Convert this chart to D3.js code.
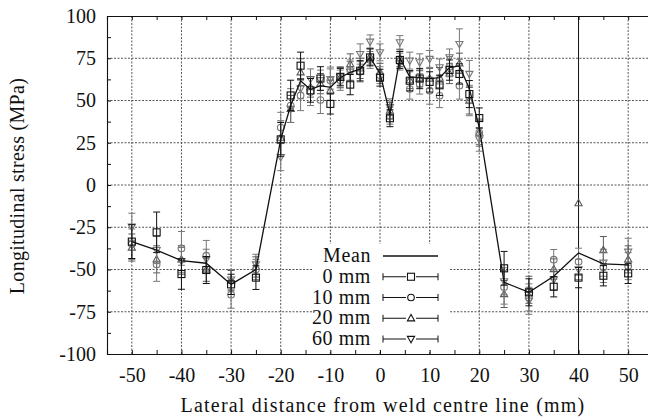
<!DOCTYPE html>
<html lang="en">
<head>
    <meta charset="UTF-8">
    <title>Longitudinal stress</title>
    <script src="https://d3js.org/d3.v7.min.js"></script>
    <style>
        body { margin: 0; background: #fff; }
        svg { display: block; }
        text { font-family: "Liberation Serif", "DejaVu Serif", serif; fill: #111; }
    </style>
</head>
<body>
    <svg width="648" height="419"></svg>
    <script>
        // lateral positions (mm)
        const xs = [-50, -45, -40, -35, -30, -25, -20, -18, -16, -14, -12, -10, -8, -6, -4, -2, 0,
                    2, 4, 6, 8, 10, 12, 14, 16, 18, 20, 25, 30, 35, 40, 45, 50];
        const meanVals = [-33.5, -38.5, -44.8, -46.3, -58.8, -50, 27, 47, 61.7, 56.5, 58.8, 57.8, 63.5, 66.7, 68.6, 75.5, 66,
                          42, 75, 64, 63.5, 63, 63.5, 69.5, 70.5, 57, 34, -57.6, -63.5, -54, -40.2, -46.7, -47.3];
        const s0 = [-33.5, -28, -52.7, -50.3, -58.8, -54.8, 27, 53, 70.6, 56, 63, 48, 64, 59.4, 67.6, 75.5, 63.5,
                    39.5, 74, 61.7, 63, 61, 59, 68, 65.7, 53.8, 39.6, -49.3, -63.5, -60.2, -54.8, -53.7, -52.3];
        const s10 = [-35, -47, -37.5, -41.8, -64.9, -50, 34, 47, 53, 55, 50.3, 61.8, 62, 68, 67, 74, 65,
                     41, 73, 56.8, 59.8, 55.8, 52.8, 70, 58.8, 50, 31, -60.5, -66.5, -44.2, -45.4, -48.7, -48];
        const s20 = [-37, -44, -44, -50, -56.6, -48.5, 28, 45, 66.7, 58, 60, 56, 63.5, 71.6, 69, 76, 67,
                     44, 75, 62, 63, 63, 63.5, 66, 72, 50, 31, -64.5, -62, -49.7, -10.7, -38.5, -44];
        const s60 = [-24.7, -38.5, -45, -44, -56, -47, 16.5, 45, 57, 62.7, 62, 62.7, 64, 67, 77.5, 84.8, 78.5,
                     46, 84.4, 73.6, 72.6, 74.6, 69.6, 75.5, 83.4, 65.7, 27, -57, -68.5, -56, -50, -46, -39.5];
        // error bar half widths (MPa)
        const err0 = [10, 12, 9, 8, 6, 7, 10, 9, 8, 7, 7, 6, 5, 6, 6, 5, 5, 5, 5, 6, 6, 6, 6, 6, 6, 8, 6, 10, 8, 6, 6, 6, 6];
        const err10 = [9, 10, 10, 9, 8, 6, 9, 10, 9, 8, 8, 8, 6, 6, 6, 5, 5, 5, 5, 6, 6, 8, 7, 6, 8, 9, 7, 10, 8, 6, 8, 9, 8];
        const err20 = [8, 8, 8, 7, 6, 6, 10, 8, 8, 6, 6, 6, 6, 6, 6, 5, 5, 5, 5, 5, 5, 6, 6, 6, 6, 8, 8, 8, 8, 6, 0, 8, 8];
        const err60 = [8, 8, 8, 6, 6, 6, 8, 8, 6, 6, 6, 6, 6, 6, 6, 4, 5, 5, 4, 5, 5, 5, 5, 5, 9, 8, 7, 8, 8, 6, 6, 8, 8];

        const xTicks = [-50, -40, -30, -20, -10, 0, 10, 20, 30, 40, 50];
        const yTicks = [-100, -75, -50, -25, 0, 25, 50, 75, 100];
        const legendLabels = ["Mean", "0 mm", "10 mm", "20 mm", "60 mm"];

        const svg = d3.select("svg");
        const x = d3.scaleLinear().domain([-55, 55]).range([107, 653]);
        const y = d3.scaleLinear().domain([-100, 100]).range([354, 16]);

        // grid
        const grid = svg.append("g");
        grid.selectAll("line.gx").data(xTicks).enter().append("line")
            .attr("x1", d => x(d)).attr("x2", d => x(d))
            .attr("y1", y(100)).attr("y2", y(-100))
            .attr("stroke", d => d === 40 ? "#111" : "#555")
            .attr("stroke-width", 1)
            .attr("stroke-dasharray", d => d === 40 ? null : "2,1.5");
        grid.selectAll("line.gy").data(yTicks.filter(d => d > -100 && d < 100)).enter().append("line")
            .attr("x1", x(-55)).attr("x2", 648)
            .attr("y1", d => y(d)).attr("y2", d => y(d))
            .attr("stroke", "#555")
            .attr("stroke-dasharray", "2,1.5");

        // axes with inward ticks
        const minorX = d3.range(-55, 56, 5);
        const minorY = d3.range(-100, 101, 12.5);
        const axBottom = svg.append("g").attr("transform", `translate(0,${y(-100)})`)
            .call(d3.axisBottom(x).tickValues(minorX).tickSize(-4).tickFormat(""));
        const axTop = svg.append("g").attr("transform", `translate(0,${y(100)})`)
            .call(d3.axisTop(x).tickValues(minorX).tickSize(-4).tickFormat(""));
        const axLeft = svg.append("g").attr("transform", `translate(${x(-55)},0)`)
            .call(d3.axisLeft(y).tickValues(minorY).tickSize(-4).tickFormat(""));
        [axBottom, axTop, axLeft].forEach(g => {
            g.select(".domain").attr("stroke", "#111").attr("stroke-width", 1.1);
            g.selectAll(".tick line").attr("stroke", "#111");
        });

        // tick labels (plain hyphen for negatives)
        svg.append("g").attr("transform", `translate(0,${y(-100)})`)
            .call(d3.axisBottom(x).tickValues(xTicks).tickSize(0).tickPadding(14).tickFormat(d => String(d)))
            .call(g => g.select(".domain").remove())
            .selectAll("text").attr("font-size", 20).attr("fill", "#111")
            .attr("font-family", "Liberation Serif, serif");
        svg.append("g").attr("transform", `translate(${x(-55)},0)`)
            .call(d3.axisLeft(y).tickValues(yTicks).tickSize(0).tickPadding(11).tickFormat(d => String(d)))
            .call(g => g.select(".domain").remove())
            .selectAll("text").attr("font-size", 20).attr("fill", "#111")
            .attr("font-family", "Liberation Serif, serif");

        // axis titles
        svg.append("text")
            .attr("x", 383).attr("y", 412)
            .attr("text-anchor", "middle")
            .attr("font-size", 20)
            .attr("letter-spacing", 1.2)
            .text("Lateral distance from weld centre line (mm)");
        svg.append("text")
            .attr("transform", "translate(24,186) rotate(-90)")
            .attr("text-anchor", "middle")
            .attr("font-size", 20)
            .attr("letter-spacing", 0.3)
            .text("Longitudinal stress (MPa)");

        // series
        const series = [
            { vals: s0, err: err0, shape: "square", color: "#111" },
            { vals: s10, err: err10, shape: "circle", color: "#777" },
            { vals: s20, err: err20, shape: "up", color: "#5a5a5a" },
            { vals: s60, err: err60, shape: "down", color: "#777" }
        ];

        function drawMarker(g, shape, cx, cy, color) {
            if (shape === "square") {
                g.append("rect").attr("x", cx - 3.5).attr("y", cy - 3.5)
                    .attr("width", 7).attr("height", 7)
                    .attr("fill", "none").attr("stroke", color).attr("stroke-width", 1.1);
            } else if (shape === "circle") {
                g.append("circle").attr("cx", cx).attr("cy", cy).attr("r", 3.3)
                    .attr("fill", "none").attr("stroke", color).attr("stroke-width", 1.1);
            } else {
                const s = shape === "up" ? 1 : -1;
                const pts = [[cx, cy - 3.8 * s], [cx - 3.6, cy + 2.6 * s], [cx + 3.6, cy + 2.6 * s]];
                g.append("path").attr("d", d3.line()(pts) + "Z")
                    .attr("fill", "none").attr("stroke", color).attr("stroke-width", 1.1);
            }
        }

        const plot = svg.append("g");
        series.slice().reverse().forEach(s => {
            const g = plot.append("g");
            xs.forEach((xv, i) => {
                const cx = x(xv), cy = y(s.vals[i]), e = s.err[i];
                if (e > 0) {
                    const y1 = y(s.vals[i] + e), y2 = y(s.vals[i] - e);
                    g.append("line").attr("x1", cx).attr("x2", cx).attr("y1", y1).attr("y2", y2)
                        .attr("stroke", s.color).attr("stroke-width", 1);
                    [y1, y2].forEach(yy => g.append("line")
                        .attr("x1", cx - 3.5).attr("x2", cx + 3.5).attr("y1", yy).attr("y2", yy)
                        .attr("stroke", s.color).attr("stroke-width", 1));
                }
                drawMarker(g, s.shape, cx, cy, s.color);
            });
        });

        // mean line
        plot.append("path")
            .datum(xs.map((xv, i) => [xv, meanVals[i]]))
            .attr("d", d3.line().x(d => x(d[0])).y(d => y(d[1])))
            .attr("fill", "none").attr("stroke", "#111").attr("stroke-width", 1.3);

        // legend
        const leg = svg.append("g");
        leg.append("rect").attr("x", 312).attr("y", 244).attr("width", 138).attr("height", 106).attr("fill", "#fff");
        const rowY = d3.scaleLinear().domain([0, 4]).range([256, 339]);
        legendLabels.forEach((lab, i) => {
            const ry = rowY(i);
            leg.append("text").attr("x", 371).attr("y", ry + 6)
                .attr("text-anchor", "end").attr("font-size", 20).attr("letter-spacing", 0.6).text(lab);
            leg.append("line").attr("x1", 383).attr("x2", 438).attr("y1", ry).attr("y2", ry)
                .attr("stroke", "#111").attr("stroke-width", i === 0 ? 1.3 : 1);
            if (i > 0) {
                [383, 438].forEach(xx => leg.append("line")
                    .attr("x1", xx).attr("x2", xx).attr("y1", ry - 3.5).attr("y2", ry + 3.5)
                    .attr("stroke", "#111"));
                const shp = series[i - 1].shape;
                const mg = leg.append("g");
                mg.append("rect").attr("x", 406).attr("y", ry - 4).attr("width", 10).attr("height", 8).attr("fill", "#fff");
                drawMarker(mg, shp, 411, ry, "#111");
            }
        });
    </script>
</body>
</html>
